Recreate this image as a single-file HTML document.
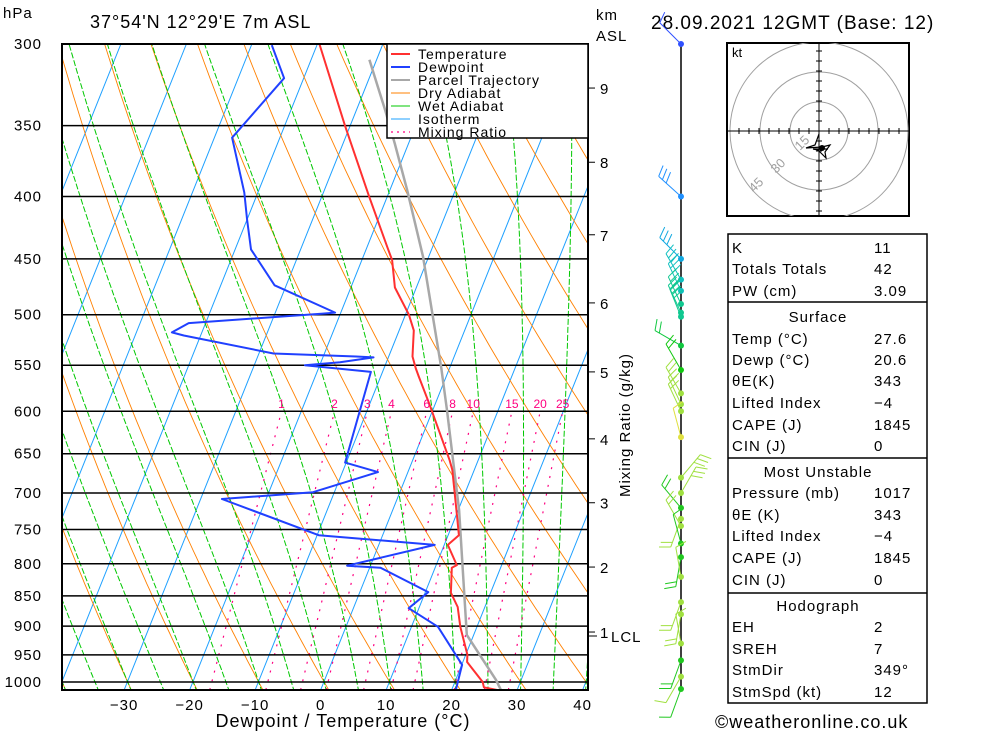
<!DOCTYPE html>
<html><head><meta charset="utf-8">
<style>
body{margin:0;background:#fff;}
svg{display:block;font-family:"Liberation Sans",sans-serif;}
.t{font-size:15px;letter-spacing:1px;fill:#000;}
</style></head>
<body>
<svg id="chart" width="1000" height="733" viewBox="0 0 1000 733" xmlns="http://www.w3.org/2000/svg">
<defs><clipPath id="plotclip"><rect x="62" y="44" width="526" height="646"/></clipPath>
<clipPath id="hodoclip"><rect x="727" y="43" width="182" height="173"/></clipPath></defs>
<g id="bg" clip-path="url(#plotclip)"></g>
<g id="plines"></g>
<g id="curves" clip-path="url(#plotclip)"></g>
<rect x="62" y="44" width="526" height="646" fill="none" stroke="#000" stroke-width="2"/>
<g id="axes"></g>
<text x="3" y="18" class="t">hPa</text>
<text x="90" y="28" class="t" style="font-size:18px">37°54'N 12°29'E 7m ASL</text>
<text x="596" y="20" class="t">km</text>
<text x="596" y="41" class="t">ASL</text>
<text x="651" y="29" class="t" style="font-size:19px">28.09.2021 12GMT (Base: 12)</text>
<text x="343" y="727" text-anchor="middle" class="t" style="font-size:18px">Dewpoint / Temperature (°C)</text>
<text x="715" y="728" class="t" style="font-size:18px">©weatheronline.co.uk</text>
<text transform="translate(630,425) rotate(-90)" text-anchor="middle" class="t">Mixing Ratio (g/kg)</text>
<g id="legend"></g>
<g id="wind"></g>
<g id="hodo"></g>
<g id="table"></g>
</svg>
<script>
const tempP=[300,350,400,441,451,475,500,515,541,553,562,591,658,670,732,758,772,802,806,845,868,901,950,963,1000,1010,1017];
const tempT=[-39.7,-30.8,-22.8,-16.8,-15.4,-13.3,-9.5,-7.8,-6.4,-5.2,-4.2,-1.0,5.6,6.6,10.2,11.6,10.5,13.1,12.5,13.9,15.8,17.4,20.2,20.6,24.2,24.7,27.6];
const dewP=[300.6,320,358,397,418,442,473,498,499,508,517,520,538,541,542,547,550,557,661,673,699,708,758,772,803,806,844,870,901,968,1017];
const dewT=[-46.9,-43.0,-47.3,-42.1,-40.0,-37.6,-31.8,-20.9,-22.7,-42.6,-44.6,-42.6,-27.8,-15.0,-12.3,-17.1,-22.3,-11.8,-10.2,-4.6,-13.3,-26.8,-9.8,8.5,-3.6,1.6,10.4,8.4,14.0,20.0,20.6];
const parcelP=[309,340,362,395,448,553,598,723,915,996,1017];
const parcelT=[-31.1,-25.6,-22.1,-17.4,-10.9,-1.3,2.1,10.1,18.9,26.1,27.6];
const pressureTicks=[300,350,400,450,500,550,600,650,700,750,800,850,900,950,1000];
const tempTicks=[-30,-20,-10,0,10,20,30,40];
const mixRatios=[1,2,3,4,6,8,10,15,20,25];
const kmTicks=[9,8,7,6,5,4,3,2,1];
const kmPressure=[326,375,430,489,557,632,713,805,910];
const windP=[300,400,450,468,478,490,498,502,530,555,580,592,600,630,680,700,720,735,745,770,790,820,860,880,930,960,990,1017];
const windDir=[315,312,315,330,335,335,335,338,300,330,330,335,335,345,40,30,320,200,330,345,190,350,200,190,350,200,210,200];
const windSpd=[10,30,30,30,30,25,25,25,20,20,20,20,20,10,25,25,15,15,15,10,15,10,15,15,10,15,10,10];

const NS='http://www.w3.org/2000/svg';
function el(tag,attrs,parent){const e=document.createElementNS(NS,tag);for(const k in attrs)e.setAttribute(k,attrs[k]);parent.appendChild(e);return e;}
const LN=Math.log(1000/300);
function yOf(p){return 44+638*Math.log(p/300)/LN;}
function xOf(T,p){return 321+6.55*T+0.40*(690-yOf(p));}
const bg=document.getElementById('bg');
for(let T=-130;T<=40;T+=10){
  const l=el('line',{x1:xOf(T,1017),y1:690,x2:xOf(T,300),y2:44,stroke:'#1ea0ff','stroke-width':1},bg);
  
  
}
for(let t=-40;t<=200;t+=10){
  const th=273.15+t;let d='';
  for(let p=1020;p>=300;p-=10){const T=th*Math.pow(p/1000,0.286)-273.15;d+=(d?'L':'M')+xOf(T,p).toFixed(1)+','+yOf(p).toFixed(1);}
  const pa=el('path',{d:d,fill:'none',stroke:'#ff8000','stroke-width':0.9},bg);
  
  
}
function es(Tc){return 6.112*Math.exp(17.67*Tc/(Tc+243.5));}
for(let t=-40;t<=40;t+=5){
  let T=t+273.15;let pts=[];
  let T2=T;for(let p=1000;p<1020;p+=5){const r=0.622*es(T2-273.15)/(p-es(T2-273.15));const dT=(287*T2+2.5e6*r)/(p*(1004+2.5e6*2.5e6*r*0.622/(287*T2*T2)));T2+=dT*5;}
  pts.push([T2-273.15,1020]);
  for(let p=1000;p>=300;p-=5){pts.push([T-273.15,p]);const r=0.622*es(T-273.15)/(p-es(T-273.15));const dT=(287*T+2.5e6*r)/(p*(1004+2.5e6*2.5e6*r*0.622/(287*T*T)));T-=dT*5;}
  pts.sort((a,b)=>b[1]-a[1]);
  const d=pts.map((q,i)=>(i?'L':'M')+xOf(q[0],q[1]).toFixed(1)+','+yOf(q[1]).toFixed(1)).join('');
  const pa=el('path',{d:d,fill:'none',stroke:'#00c800','stroke-width':1,'stroke-dasharray':'6,2'},bg);
  
  
}
function tOfW(w,p){const e=w/1000*p/(0.622+w/1000);const L=Math.log(e/6.112);return 243.5*L/(17.67-L);}
const axes=document.getElementById('axes');
mixRatios.forEach(w=>{
  const l=el('line',{x1:xOf(tOfW(w,1017),1017),y1:690,x2:xOf(tOfW(w,600),600),y2:yOf(600),stroke:'#ff0080','stroke-width':1.2,'stroke-dasharray':'2,7'},bg);
  
  
  const tx=el('text',{x:xOf(tOfW(w,600),600),y:408,'text-anchor':'middle','font-size':12,fill:'#ff0080'},axes);
  tx.textContent=w;
  
  
});
const pl=document.getElementById('plines');
pressureTicks.forEach(p=>{
  const y=yOf(p);
  const l=el('line',{x1:62,y1:y,x2:588,y2:y,stroke:'#000','stroke-width':1.5},pl);
  
  
  const t=el('text',{x:42,y:y+5,'text-anchor':'end',class:'t'},axes);
  t.textContent=p;
  
  
});
tempTicks.forEach(T=>{
  const t=el('text',{x:xOf(T,1017),y:710,'text-anchor':'middle',class:'t'},axes);
  t.textContent=T<0?'\u2212'+(-T):T;
  
  
});
kmTicks.forEach((k,i)=>{
  const y=yOf(kmPressure[i]);
  el('line',{x1:588,y1:y,x2:595,y2:y,stroke:'#000','stroke-width':1},axes);
  const t=el('text',{x:600,y:y+6,class:'t'},axes);
  t.textContent=k;
  
  
});
el('line',{x1:588,y1:636,x2:597,y2:636,stroke:'#000','stroke-width':1},axes);
const lcl=el('text',{x:611,y:642,class:'t'},axes);lcl.textContent='LCL';


const cv=document.getElementById('curves');
function curve(P,T,col,w,name){
  const d=P.map((p,i)=>(i?'L':'M')+xOf(T[i],p).toFixed(1)+','+yOf(p).toFixed(1)).join('');
  const pa=el('path',{d:d,fill:'none',stroke:col,'stroke-width':w,'stroke-linejoin':'round'},cv);
  
  
}
curve(parcelP,parcelT,'#a8a8a8',2.5,'parcel-trajectory-line');
curve(dewP,dewT,'#2040ff',2,'dewpoint-line');
curve(tempP,tempT,'#ff3030',2,'temperature-line');
const lg=document.getElementById('legend');
el('rect',{x:387,y:44,width:201,height:94,fill:'#fff',stroke:'#000','stroke-width':1.5},lg);
const legItems=[['Temperature','#ff3030',2,''],['Dewpoint','#2040ff',2,''],['Parcel Trajectory','#a8a8a8',2,''],['Dry Adiabat','#ff8000',1,''],['Wet Adiabat','#00c800',1,''],['Isotherm','#1ea0ff',1,''],['Mixing Ratio','#ff0080',1.2,'2,4']];
legItems.forEach((it,i)=>{
  const y=54+i*13;
  const g=el('g',{},lg);
  
  
  el('line',{x1:391,y1:y,x2:410,y2:y,stroke:it[1],'stroke-width':it[2],'stroke-dasharray':it[3]},g);
  const t=el('text',{x:418,y:y+5,class:'t',style:'font-size:14px'},g);t.textContent=it[0];
});
const wd=document.getElementById('wind');
el('line',{x1:681,y1:44,x2:681,y2:690,stroke:'#000','stroke-width':1.5},wd);
function wcol(p){if(p<350)return'#3050ff';if(p<420)return'#2090ff';if(p<465)return'#10a8e0';if(p<485)return'#10c0c0';if(p<510)return'#10c890';if(p<540)return'#10c840';if(p<575)return'#10c810';if(p<620)return'#a0e040';if(p<640)return'#e0e040';return Math.round(p/30)%2?'#a0e040':'#20c820';}
windP.forEach((p,i)=>{
  const y=Math.min(yOf(p),689),c=wcol(p),a=windDir[i]*Math.PI/180;
  const g=el('g',{},wd);
  
  
  const L=30,ux=Math.sin(a),uy=-Math.cos(a);
  const ex=681+ux*L,ey=y+uy*L;
  el('line',{x1:681,y1:y,x2:ex,y2:ey,stroke:c,'stroke-width':1},g);
  let n=Math.round(windSpd[i]/10);
  for(let k=0;k<n;k++){const bx=ex-ux*k*5,by=ey-uy*k*5;const fx=bx+(-uy)*11+ux*4,fy=by+ux*11+uy*4;el('line',{x1:bx,y1:by,x2:fx,y2:fy,stroke:c,'stroke-width':1},g);}
  el('circle',{cx:681,cy:y,r:3,fill:c},g);
});
const hd=document.getElementById('hodo');
el('rect',{x:727,y:43,width:182,height:173,fill:'#fff',stroke:'#000','stroke-width':2},hd);
const hc=el('g',{'clip-path':'url(#hodoclip)'},hd);
[29,59,89].forEach(r=>el('circle',{cx:819,cy:131,r:r,fill:'none',stroke:'#a0a0a0','stroke-width':1},hc));
el('line',{x1:727,y1:131,x2:909,y2:131,stroke:'#000','stroke-width':1},hd);
el('line',{x1:819,y1:43,x2:819,y2:216,stroke:'#000','stroke-width':1},hd);
for(let d=-80;d<=80;d+=10){if(!d)continue;el('line',{x1:819+d,y1:128,x2:819+d,y2:134,stroke:'#000'},hd);el('line',{x1:816,y1:131+d,x2:822,y2:131+d,stroke:'#000'},hd);}
[['15',800,151],['30',776,174],['45',754,193]].forEach(s=>{const t=el('text',{x:s[1],y:s[2],'font-size':13,fill:'#a0a0a0',transform:`rotate(-45 ${s[1]} ${s[2]})`},hd);t.textContent=s[0];});
const kt=el('text',{x:732,y:57,'font-size':13},hd);kt.textContent='kt';
el('polyline',{points:'819,134 815,145 806,148 822,147 830,145 825,152 826,158 818,150 813,149 828,149',fill:'none',stroke:'#000','stroke-width':1.2},hd);
el('circle',{cx:822,cy:148,r:3,fill:'#000'},hd);
const tb=document.getElementById('table');
el('rect',{x:728,y:234,width:199,height:469,fill:'none',stroke:'#000','stroke-width':1.5},tb);
[302,458,593].forEach(y=>el('line',{x1:728,y1:y,x2:927,y2:y,stroke:'#000','stroke-width':1.5},tb));
const rows=[[247,'K','11'],[268,'Totals Totals','42'],[290,'PW (cm)','3.09'],[316,'Surface',null],[338,'Temp (°C)','27.6'],[359,'Dewp (°C)','20.6'],[380,'θE(K)','343'],[402,'Lifted Index','\u22124'],[424,'CAPE (J)','1845'],[445,'CIN (J)','0'],[471,'Most Unstable',null],[492,'Pressure (mb)','1017'],[514,'θE (K)','343'],[535,'Lifted Index','\u22124'],[557,'CAPE (J)','1845'],[579,'CIN (J)','0'],[605,'Hodograph',null],[626,'EH','2'],[648,'SREH','7'],[669,'StmDir','349°'],[691,'StmSpd (kt)','12']];
rows.forEach(r=>{
  const g=el('g',{},tb);
  
  
  if(r[2]===null){const t=el('text',{x:818,y:r[0]+6,'text-anchor':'middle',class:'t'},g);t.textContent=r[1];}
  else{const t=el('text',{x:732,y:r[0]+6,class:'t'},g);t.textContent=r[1];const v=el('text',{x:874,y:r[0]+6,class:'t'},g);v.textContent=r[2];}
});
</script>
</body></html>
